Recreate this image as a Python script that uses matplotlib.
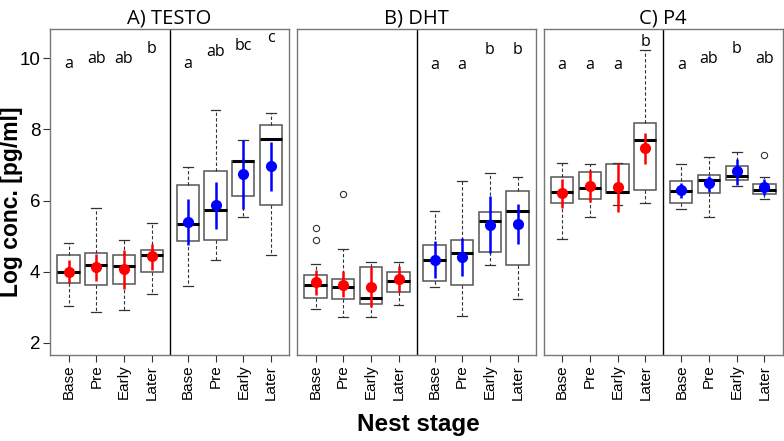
import matplotlib
matplotlib.use("Agg")
import matplotlib.pyplot as plt
import numpy as np

# Data, order per panel: female Base..Later, male Base..Later
panels = ["A) TESTO", "B) DHT", "C) P4"]
stages = ["Base", "Pre", "Early", "Later"]

whis_lo = [[3.05, 2.88, 2.92, 3.37, 3.61, 4.32, 5.55, 4.46],
           [2.94, 2.72, 2.72, 3.06, 3.56, 2.75, 4.20, 3.23],
           [4.93, 5.54, 5.88, 5.94, 5.75, 5.55, 6.40, 6.05]]
q1 = [[3.68, 3.64, 3.65, 3.98, 4.86, 4.88, 6.12, 5.87],
      [3.25, 3.22, 3.10, 3.42, 3.74, 3.62, 4.56, 4.18],
      [5.93, 6.03, 6.22, 6.31, 5.92, 6.20, 6.59, 6.17]]
med = [[4.00, 4.18, 4.17, 4.48, 5.33, 5.73, 7.10, 7.74],
       [3.62, 3.58, 3.25, 3.73, 4.34, 4.54, 5.42, 5.71],
       [6.25, 6.36, 6.24, 7.71, 6.26, 6.57, 6.69, 6.29]]
q3 = [[4.46, 4.53, 4.48, 4.61, 6.43, 6.83, 7.12, 8.11],
      [3.90, 3.80, 4.12, 3.98, 4.76, 4.88, 5.69, 6.28],
      [6.66, 6.80, 7.03, 8.18, 6.55, 6.73, 6.98, 6.47]]
whis_hi = [[4.82, 5.79, 4.88, 5.38, 6.94, 8.54, 7.69, 8.45],
           [4.22, 4.64, 4.27, 4.27, 5.70, 6.55, 6.77, 6.67],
           [7.05, 7.03, 7.05, 10.23, 7.02, 7.21, 7.37, 6.67]]
means = [[4.00, 4.12, 4.07, 4.43, 5.41, 5.88, 6.75, 6.96],
         [3.70, 3.64, 3.57, 3.79, 4.33, 4.41, 5.31, 5.33],
         [6.22, 6.41, 6.37, 7.47, 6.29, 6.48, 6.82, 6.39]]
err_lo = [[3.67, 3.74, 3.52, 4.06, 4.76, 5.20, 5.77, 6.26],
          [3.34, 3.28, 3.00, 3.44, 3.81, 3.88, 4.53, 4.79],
          [5.79, 5.96, 5.67, 7.02, 6.07, 6.25, 6.45, 6.15]]
err_hi = [[4.34, 4.49, 4.62, 4.77, 6.04, 6.53, 7.69, 7.65],
          [4.04, 4.01, 4.14, 4.16, 4.85, 4.95, 6.12, 5.89],
          [6.61, 6.85, 7.05, 7.90, 6.50, 6.68, 7.16, 6.61]]
fliers = [[[], [], [], [], [], [], [], []],
          [[5.23, 4.88], [6.19], [], [], [], [], [], []],
          [[], [], [], [], [], [], [], [7.27]]]

letters = [["a", "ab", "ab", "b", "a", "ab", "bc", "c"],
           ["", "", "", "", "a", "a", "b", "b"],
           ["a", "a", "a", "b", "a", "ab", "b", "ab"]]
letter_y = [[9.83, 9.99, 9.99, 10.25, 9.83, 10.16, 10.35, 10.56],
            [0, 0, 0, 0, 9.81, 9.81, 10.24, 10.24],
            [9.81, 9.81, 9.81, 10.46, 9.81, 9.97, 10.25, 9.97]]

pos = [1, 2, 3, 4, 5.3, 6.3, 7.3, 8.3]
colors = ["#ff0000"] * 4 + ["#0000ff"] * 4

fig = plt.figure(figsize=(7.84, 4.41), dpi=100)
W, H = 784, 441
edges = [(50, 289), (297, 535.5), (543.5, 782.5)]
top, bot = 29, 355

arial = ["Liberation Sans", "DejaVu Sans"]

for p in range(3):
    l, r = edges[p]
    ax = fig.add_axes([l / W, (H - bot) / H, (r - l) / W, (bot - top) / H])
    stats = []
    for i in range(8):
        stats.append(dict(med=med[p][i], q1=q1[p][i], q3=q3[p][i],
                          whislo=whis_lo[p][i], whishi=whis_hi[p][i],
                          fliers=fliers[p][i]))
    ax.bxp(stats, positions=pos, widths=0.8, capwidths=0.35, patch_artist=True,
           boxprops=dict(facecolor="white", edgecolor="#555555", linewidth=1.1),
           medianprops=dict(color="black", linewidth=2.2),
           whiskerprops=dict(color="#333333", linestyle=(0, (3, 2)), linewidth=0.8),
           capprops=dict(color="#333333", linewidth=0.9),
           flierprops=dict(marker="o", markersize=4.5, markerfacecolor="none",
                           markeredgecolor="#333333", markeredgewidth=0.8))
    for i in range(8):
        ax.vlines(pos[i], err_lo[p][i], err_hi[p][i], color=colors[i], linewidth=1.8, zorder=4)
        ax.plot(pos[i], means[p][i], "o", color=colors[i], markersize=7, zorder=5)
        if letters[p][i]:
            ax.text(pos[i], letter_y[p][i], letters[p][i], ha="center", va="center",
                    fontsize=11.5, family="Open Sans")
    ax.axvline(4.65, color="black", linewidth=1)
    ax.set_xlim(0.33, 8.95)
    ax.set_ylim(1.66, 10.82)
    ax.set_xticks(pos)
    ax.set_xticklabels(stages * 2, rotation=90, fontsize=11, family=arial)
    ax.tick_params(axis="x", length=5, width=0.8, color="#333333", pad=2)
    for s in ax.spines.values():
        s.set_color("#777777")
        s.set_linewidth(1)
    if p == 0:
        ax.set_yticks([2, 4, 6, 8, 10])
        ax.set_yticklabels(["2", "4", "6", "8", "10"], fontsize=13.5, family=arial)
        ax.tick_params(axis="y", length=5, width=0.8, color="#333333", pad=2)
    else:
        ax.set_yticks([])
    ax.set_title(panels[p], fontsize=14.5, family="Open Sans", pad=4)

fig.text(12 / W, 1 - 202 / H, "Log conc. [pg/ml]", rotation=90, ha="center", va="center",
         fontsize=16.5, fontweight="bold", family=arial)
fig.text(418 / W, 1 - 425 / H, "Nest stage", ha="center", va="center",
         fontsize=17.5, fontweight="bold", family=arial)

fig.savefig("out.png", dpi=100)
